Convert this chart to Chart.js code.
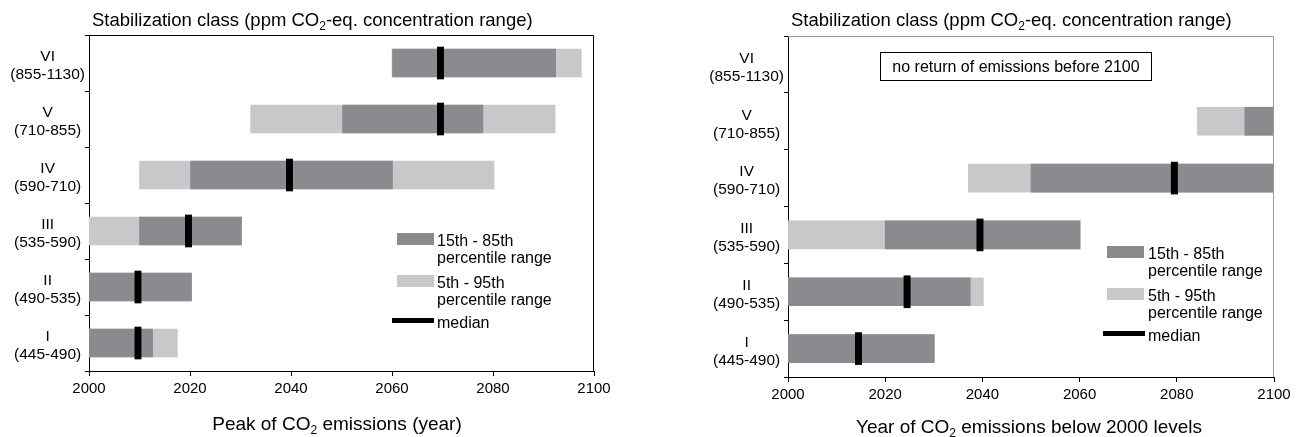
<!DOCTYPE html>
<html>
<head>
<meta charset="utf-8">
<script src="https://cdn.jsdelivr.net/npm/chart.js@4.4.0/dist/chart.umd.min.js"></script>
<style>
  body { margin: 0; background: #fff; font-family: "Liberation Sans", Arial, sans-serif; color: #000; }
  #page { position: relative; width: 1299px; height: 437px; overflow: hidden; }
  .wrap { position: absolute; top: 0; height: 437px; }
  .txt { position: absolute; white-space: nowrap; }
  .txt sub { font-size: 12px; vertical-align: -4px; line-height: 0; }
  .title { font-size: 18.5px; line-height: 22px; top: 9px; }
  .xtitle { font-size: 19px; line-height: 22px; transform: translateX(-50%); }
  .leg { font-size: 16px; line-height: 17px; }
  .box { position: absolute; }
</style>
</head>
<body>
<div id="page">
  <div class="wrap" style="left:0;width:650px"><canvas id="peak"></canvas></div>
  <div class="wrap" style="left:650px;width:649px"><canvas id="below"></canvas></div>

  <div class="txt title" style="left:92px">Stabilization class (ppm CO<sub>2</sub>-eq. concentration range)</div>
  <div class="txt title" style="left:791px">Stabilization class (ppm CO<sub>2</sub>-eq. concentration range)</div>

  <div class="txt xtitle" style="left:337px;top:413px">Peak of CO<sub>2</sub> emissions (year)</div>
  <div class="txt xtitle" style="left:1029px;top:416px">Year of CO<sub>2</sub> emissions below 2000 levels</div>

  <div class="txt" style="left:880px;top:52px;width:270px;height:27px;border:1px solid #000;font-size:16px;line-height:27px;text-align:center">no return of emissions before 2100</div>

  <!-- legend, left panel -->
  <div class="box" style="left:397px;top:233px;width:37px;height:12px;background:#8b8b8f"></div>
  <div class="txt leg" style="left:437px;top:232px">15th - 85th<br>percentile range</div>
  <div class="box" style="left:397px;top:275px;width:37px;height:12px;background:#c8c8ca"></div>
  <div class="txt leg" style="left:437px;top:274px">5th - 95th<br>percentile range</div>
  <div class="box" style="left:392px;top:318px;width:42px;height:5px;background:#000"></div>
  <div class="txt leg" style="left:437px;top:314px">median</div>

  <!-- legend, right panel -->
  <div class="box" style="left:1107px;top:246px;width:37px;height:12px;background:#8b8b8f"></div>
  <div class="txt leg" style="left:1148px;top:245px">15th - 85th<br>percentile range</div>
  <div class="box" style="left:1107px;top:288px;width:37px;height:12px;background:#c8c8ca"></div>
  <div class="txt leg" style="left:1148px;top:287px">5th - 95th<br>percentile range</div>
  <div class="box" style="left:1103px;top:331px;width:42px;height:5px;background:#000"></div>
  <div class="txt leg" style="left:1148px;top:327px">median</div>
</div>

<script>
const classes = ['I', 'II', 'III', 'IV', 'V', 'VI'];
const concRanges = ['(445-490)', '(490-535)', '(535-590)', '(590-710)', '(710-855)', '(855-1130)'];
const yearTicks = [2000, 2020, 2040, 2060, 2080, 2100];

// peak of CO2 emissions (year)
const peakP5 = [2000, 2000, 2000, 2010, 2032, 2060];
const peakP15 = [2000, 2000, 2010, 2020.1, 2050.2, 2060.1];
const peakP85 = [2012.6, 2020.3, 2030.2, 2060.1, 2078, 2092.4];
const peakP95 = [2017.5, 2020.3, 2030.2, 2080.2, 2092.3, 2097.5];
const peakMedian = [2009.7, 2009.7, 2019.7, 2039.7, 2069.6, 2069.6];

// year of CO2 emissions below 2000 levels (ranges running past 2100 end at the axis)
const belowP5 = [2000, 2000, 2000, 2037.1, 2084.2, null];
const belowP15 = [2000, 2000, 2020, 2050, 2094, null];
const belowP85 = [2030.1, 2037.5, 2060.1, 2100, 2100, null];
const belowP95 = [2030.1, 2040.2, 2060.1, 2100, 2100, null];
const belowMedian = [2014.5, 2024.5, 2039.5, 2079.5, null, null];

const DARK = '#8b8b8f';
const LIGHT = '#c8c8ca';
const FAMILY = '"Liberation Sans", Arial, sans-serif';

function pairs(lo, hi) {
  return lo.map((v, i) => (v == null || hi[i] == null) ? null : [v, hi[i]]);
}

// frame on the top and right sides of the plot
const frame = {
  id: 'frame',
  afterDatasetsDraw(chart, args, opts) {
    const a = chart.chartArea, ctx = chart.ctx;
    ctx.save();
    ctx.strokeStyle = opts.color;
    ctx.lineWidth = 1;
    ctx.beginPath();
    ctx.moveTo(a.left, a.top + 0.5);
    ctx.lineTo(a.right - 0.5, a.top + 0.5);
    ctx.lineTo(a.right - 0.5, a.bottom);
    ctx.stroke();
    ctx.restore();
  }
};

function makeChart(id, p5, p15, p85, p95, med, cfg) {
  const medHalf = cfg.medHalf;
  return new Chart(document.getElementById(id), {
    type: 'bar',
    data: {
      labels: classes.map((c, i) => [c, concRanges[i]]),
      datasets: [
        {
          label: 'median',
          data: med.map(m => m == null ? null : [m - medHalf, m + medHalf]),
          backgroundColor: '#000',
          barThickness: 32,
          grouped: false
        },
        {
          label: '15th - 85th percentile range',
          data: pairs(p15, p85),
          backgroundColor: DARK,
          barThickness: 28,
          grouped: false
        },
        {
          label: '5th - 95th percentile range',
          data: pairs(p5, p95),
          backgroundColor: LIGHT,
          barThickness: 28,
          grouped: false
        }
      ]
    },
    options: {
      indexAxis: 'y',
      responsive: true,
      maintainAspectRatio: false,
      animation: false,
      devicePixelRatio: 1,
      layout: { padding: { top: cfg.top, right: cfg.right, left: 0, bottom: 0 } },
      plugins: {
        legend: { display: false },
        tooltip: { enabled: false },
        frame: { color: cfg.frameColor }
      },
      scales: {
        x: {
          type: 'linear',
          min: 2000,
          max: 2100,
          afterBuildTicks: s => { s.ticks = yearTicks.map(v => ({ value: v })); },
          afterFit: s => { s.height = cfg.xHeight; },
          ticks: { color: '#000', font: { family: FAMILY, size: 15 }, padding: 4, maxRotation: 0,
                   callback: v => String(v) },
          grid: { drawOnChartArea: false, tickLength: 5, color: '#000' },
          border: { color: '#000', width: 1 }
        },
        y: {
          reverse: true,
          afterFit: s => { s.width = cfg.yWidth; },
          ticks: { color: '#000', font: { family: FAMILY, size: 15.5, lineHeight: '18px' },
                   padding: 0, crossAlign: 'center', labelOffset: 3 },
          grid: { drawOnChartArea: false, tickLength: 4, color: '#000', offset: true },
          border: { color: '#000', width: 1 }
        }
      }
    },
    plugins: [frame]
  });
}

makeChart('peak', peakP5, peakP15, peakP85, peakP95, peakMedian,
  { top: 35, right: 56, xHeight: 66, yWidth: 89, medHalf: 0.62, frameColor: '#000' });
makeChart('below', belowP5, belowP15, belowP85, belowP95, belowMedian,
  { top: 36, right: 25, xHeight: 60, yWidth: 138, medHalf: 0.65, frameColor: '#999' });
</script>
</body>
</html>
